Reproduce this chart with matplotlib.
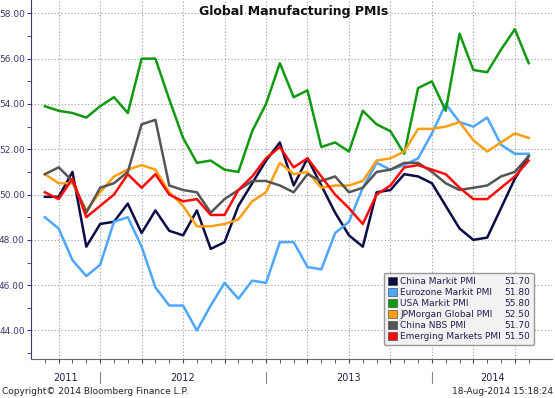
import matplotlib
matplotlib.use("Agg")
import matplotlib.pyplot as plt
from matplotlib.patches import Rectangle
from matplotlib.ticker import MultipleLocator, FormatStrFormatter
import numpy as np

# monthly readings, Aug 2011 .. Jul 2014
china_markit = [49.9, 49.9, 51.0, 47.7, 48.7, 48.8, 49.6, 48.3, 49.3, 48.4, 48.2, 49.3,
                47.6, 47.9, 49.5, 50.5, 51.5, 52.3, 50.4, 51.6, 50.4, 49.2, 48.2, 47.7,
                50.1, 50.2, 50.9, 50.8, 50.5, 49.5, 48.5, 48.0, 48.1, 49.4, 50.7, 51.7]
eurozone = [49.0, 48.5, 47.1, 46.4, 46.9, 48.8, 49.0, 47.7, 45.9, 45.1, 45.1, 44.0,
            45.1, 46.1, 45.4, 46.2, 46.1, 47.9, 47.9, 46.8, 46.7, 48.3, 48.8, 50.3,
            51.4, 51.1, 51.3, 51.6, 52.7, 54.0, 53.2, 53.0, 53.4, 52.2, 51.8, 51.8]
usa = [53.9, 53.7, 53.6, 53.4, 53.9, 54.3, 53.6, 56.0, 56.0, 54.2, 52.5, 51.4,
       51.5, 51.1, 51.0, 52.8, 54.0, 55.8, 54.3, 54.6, 52.1, 52.3, 51.9, 53.7,
       53.1, 52.8, 51.8, 54.7, 55.0, 53.7, 57.1, 55.5, 55.4, 56.4, 57.3, 55.8]
jpmorgan = [50.9, 50.5, 50.5, 49.3, 50.1, 50.8, 51.1, 51.3, 51.1, 50.1, 49.5, 48.6,
            48.6, 48.7, 48.9, 49.7, 50.1, 51.4, 50.9, 51.0, 50.3, 50.4, 50.4, 50.6,
            51.5, 51.6, 51.9, 52.9, 52.9, 53.0, 53.2, 52.4, 51.9, 52.3, 52.7, 52.5]
china_nbs = [50.9, 51.2, 50.6, 49.2, 50.3, 50.5, 51.0, 53.1, 53.3, 50.4, 50.2, 50.1,
             49.2, 49.8, 50.2, 50.6, 50.6, 50.4, 50.1, 50.9, 50.6, 50.8, 50.1, 50.3,
             51.0, 51.1, 51.4, 51.4, 51.0, 50.5, 50.2, 50.3, 50.4, 50.8, 51.0, 51.7]
emerging = [50.1, 49.8, 50.7, 49.0, 49.5, 50.0, 50.9, 50.3, 50.9, 50.0, 49.7, 49.8,
            49.1, 49.1, 50.2, 50.8, 51.6, 52.1, 51.2, 51.6, 50.8, 50.0, 49.4, 48.7,
            50.0, 50.4, 51.2, 51.3, 51.1, 50.9, 50.3, 49.8, 49.8, 50.3, 50.8, 51.5]

names = ["China Markit PMI", "Eurozone Markit PMI", "USA Markit PMI",
         "JPMorgan Global PMI", "China NBS PMI", "Emerging Markets PMI"]
colors = ["#0B0B45", "#4DA6FF", "#109A10", "#FF9E10", "#555555", "#FF0A0A"]
years = ["2011", "2012", "2013", "2014"]
year_ends = [4, 16, 28]          # index of each December point
year_centers = [1.5, 10, 22, 32.4]

series = [china_markit, eurozone, usa, jpmorgan, china_nbs, emerging]
x = np.arange(len(china_markit))

fig = plt.figure(figsize=(5.55, 3.98), dpi=100)
ax = fig.add_axes([0.0559, 0.098, 0.939, 0.902])

for vals, col in zip(series, colors):
    ax.plot(x, vals, color=col, lw=1.8)

ax.set_xlim(-1, 36.7)
ax.set_ylim(42.74, 58.59)

axis_col = "#3A3A70"
ax.yaxis.set_major_locator(MultipleLocator(2))
ax.yaxis.set_minor_locator(MultipleLocator(1))
ax.yaxis.set_major_formatter(FormatStrFormatter("%.2f"))
ax.set_xticks(np.arange(1, 36, 3))
ax.set_xticks(x, minor=True)
ax.set_xticklabels([])
ax.tick_params(axis="y", which="both", direction="out", length=3, color=axis_col,
               labelsize=6.5, labelcolor=axis_col, pad=1.5)
ax.tick_params(axis="x", which="both", direction="out", length=3, color="#444444")

ax.grid(True, which="major", linestyle=(0, (1, 2)), color="#9A9A9A", lw=0.8)
ax.spines["top"].set_visible(False)
ax.spines["right"].set_visible(False)
ax.spines["left"].set_color(axis_col)
ax.spines["bottom"].set_color("#666666")

xt = ax.get_xaxis_transform()
for yr, c in zip(years, year_centers):
    ax.text(c, -0.053, yr, transform=xt, ha="center", va="center",
            fontsize=7, color="#222244")
for b in year_ends:
    ax.plot([b, b], [-0.036, -0.067], transform=xt, color="#888888",
            lw=0.8, clip_on=False)

ax.text(0.504, 0.969, "Global Manufacturing PMIs", transform=ax.transAxes,
        ha="center", va="center", fontsize=9, fontweight="bold", color="#111111")

# legend: names in column 1, latest values in column 2
handles = [Rectangle((0, 0), 1, 1, fc=c, ec="#333333", lw=0.4) for c in colors]
handles += [Rectangle((0, 0), 1, 1, visible=False) for _ in colors]
labels = names + [f"{s[-1]:.2f}" for s in series]
leg = ax.legend(handles, labels, ncol=2, loc="upper left",
                bbox_to_anchor=(0.668, 0.252), fontsize=6.5,
                handlelength=1.0, handleheight=1.0, handletextpad=0.4,
                columnspacing=-1.1, labelspacing=0.2, borderpad=0.45,
                frameon=True, fancybox=True, facecolor="#F2F2F2",
                edgecolor="#999999", framealpha=1)
for t in leg.get_texts():
    t.set_color("#1F1F4F")

fig.text(2 / 555, 1 - 391 / 398, "Copyright\u00a9 2014 Bloomberg Finance L.P.",
         fontsize=6.5, va="center", ha="left", color="#222222")
fig.text(553 / 555, 1 - 391 / 398, "18-Aug-2014 15:18:24",
         fontsize=6.5, va="center", ha="right", color="#222222")

fig.savefig("out.png", dpi=100)
